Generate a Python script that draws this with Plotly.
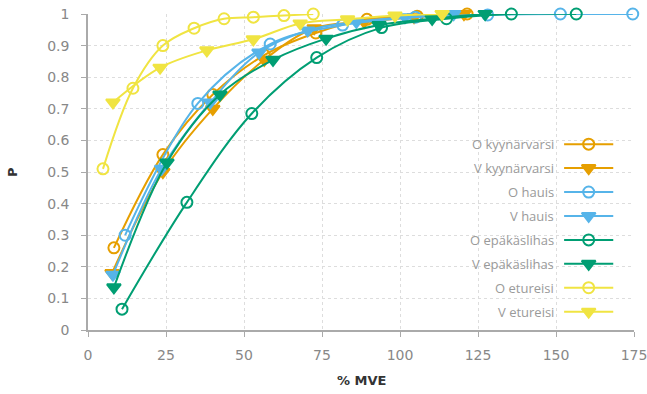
import plotly.graph_objects as go

names = ["O kyynärvarsi", "V kyynärvarsi", "O hauis", "V hauis",
         "O epäkäslihas", "V epäkäslihas", "O etureisi", "V etureisi"]
colors = ["#E69F00", "#E69F00", "#56B4E9", "#56B4E9",
          "#009E73", "#009E73", "#F0E442", "#F0E442"]
symbols = ["circle-open", "triangle-down", "circle-open", "triangle-down",
           "circle-open", "triangle-down", "circle-open", "triangle-down"]

ok_x = [8.3, 24, 40, 56.5, 73, 89.4, 105.5, 121.5]
ok_y = [0.26, 0.555, 0.745, 0.87, 0.94, 0.983, 0.993, 1.0]
vk_x = [7.7, 24, 40, 56.5, 72.5, 88.5, 104.5, 120.5]
vk_y = [0.18, 0.50, 0.70, 0.855, 0.955, 0.975, 0.99, 1.0]
oh_x = [11.9, 35.2, 58.4, 81.6, 104.9, 128.1, 151.4, 174.6]
oh_y = [0.30, 0.717, 0.905, 0.965, 0.99, 0.997, 1.0, 1.0]
vh_x = [8, 23.6, 39.2, 54.8, 70.4, 86, 101.6, 117.2]
vh_y = [0.175, 0.51, 0.72, 0.878, 0.948, 0.975, 0.99, 1.0]
oe_x = [10.9, 31.7, 52.5, 73.3, 94.1, 114.9, 135.7, 156.5]
oe_y = [0.066, 0.404, 0.685, 0.862, 0.957, 0.985, 1.0, 1.0]
ve_x = [8.3, 25.3, 42.3, 59.3, 76.3, 93.3, 110.3, 127.3]
ve_y = [0.135, 0.53, 0.745, 0.855, 0.922, 0.965, 0.985, 1.0]
oet_x = [4.8, 14.4, 24, 34, 43.6, 53, 62.8, 72.2]
oet_y = [0.51, 0.765, 0.90, 0.955, 0.985, 0.99, 0.995, 1.0]
vet_x = [8, 23.1, 38.1, 53, 68, 83.2, 98.4, 113.5]
vet_y = [0.72, 0.83, 0.885, 0.92, 0.97, 0.983, 0.995, 1.0]

xs = [ok_x, vk_x, oh_x, vh_x, oe_x, ve_x, oet_x, vet_x]
ys = [ok_y, vk_y, oh_y, vh_y, oe_y, ve_y, oet_y, vet_y]

x_ticks = [0, 25, 50, 75, 100, 125, 150, 175]
y_ticks = [0, 0.1, 0.2, 0.3, 0.4, 0.5, 0.6, 0.7, 0.8, 0.9, 1]

fig = go.Figure()
for i in range(len(names)):
    fig.add_trace(go.Scatter(
        x=xs[i], y=ys[i], name=names[i], mode="lines+markers",
        line=dict(color=colors[i], width=2, shape="spline", smoothing=1.0),
        marker=dict(symbol=symbols[i], size=11 if "open" in symbols[i] else 12,
                    color=colors[i], line=dict(width=2, color=colors[i])),
        showlegend=False, cliponaxis=False,
    ))

# custom legend (text left, symbol right) on an overlay axis in [0,1]
leg_x0, leg_x1, leg_xm = 0.872, 0.962, 0.917
leg_top, leg_step = 0.588, 0.0757
annotations = []
for i in range(len(names)):
    yy = leg_top - i * leg_step
    fig.add_trace(go.Scatter(
        x=[leg_x0, leg_x1], y=[yy, yy], mode="lines",
        line=dict(color=colors[i], width=2), xaxis="x2", yaxis="y2",
        showlegend=False, hoverinfo="skip", cliponaxis=False))
    fig.add_trace(go.Scatter(
        x=[leg_xm], y=[yy], mode="markers", xaxis="x2", yaxis="y2",
        marker=dict(symbol=symbols[i], size=11 if "open" in symbols[i] else 12,
                    color=colors[i], line=dict(width=2, color=colors[i])),
        showlegend=False, hoverinfo="skip", cliponaxis=False))
    annotations.append(dict(
        x=0.857, y=yy, xref="x2", yref="y2", text=names[i], showarrow=False,
        xanchor="right", yanchor="middle",
        font=dict(family="Open Sans", size=13, color="#9a9a9a")))

# axis titles
annotations.append(dict(x=0.5, y=-0.16, xref="paper", yref="paper", text="<b>% MVE</b>",
                        showarrow=False, xanchor="center", yanchor="middle",
                        font=dict(family="DejaVu Sans", size=13, color="#333333")))
annotations.append(dict(x=-0.139, y=0.5, xref="paper", yref="paper", text="<b>P</b>",
                        showarrow=False, xanchor="center", yanchor="middle", textangle=-90,
                        font=dict(family="DejaVu Sans", size=13, color="#333333")))

fig.update_layout(
    width=647, height=394,
    margin=dict(l=88, r=13, t=14, b=64),
    paper_bgcolor="white", plot_bgcolor="white",
    font=dict(family="DejaVu Sans", color="#888888"),
    annotations=annotations,
    xaxis=dict(
        range=[0, 175], tickvals=x_ticks, ticks="outside", ticklen=5,
        tickcolor="#aaaaaa", showline=True, linecolor="#aaaaaa", linewidth=1.5,
        showgrid=True, gridcolor="#dddddd", griddash="dot", gridwidth=1,
        zeroline=False, tickfont=dict(size=14, color="#888888"),
        ticklabelstandoff=6, ticklabeloverflow="allow", automargin=False,
    ),
    yaxis=dict(
        range=[0, 1], tickvals=y_ticks, ticks="outside", ticklen=5,
        tickcolor="#aaaaaa", showline=True, linecolor="#aaaaaa", linewidth=1.5,
        showgrid=True, gridcolor="#dddddd", griddash="dot", gridwidth=1,
        zeroline=False, tickfont=dict(size=14, color="#888888"),
        ticklabelstandoff=9, automargin=False,
    ),
    xaxis2=dict(range=[0, 1], overlaying="x", visible=False, fixedrange=True),
    yaxis2=dict(range=[0, 1], overlaying="y", visible=False, fixedrange=True),
)

fig.write_html("out.html")
